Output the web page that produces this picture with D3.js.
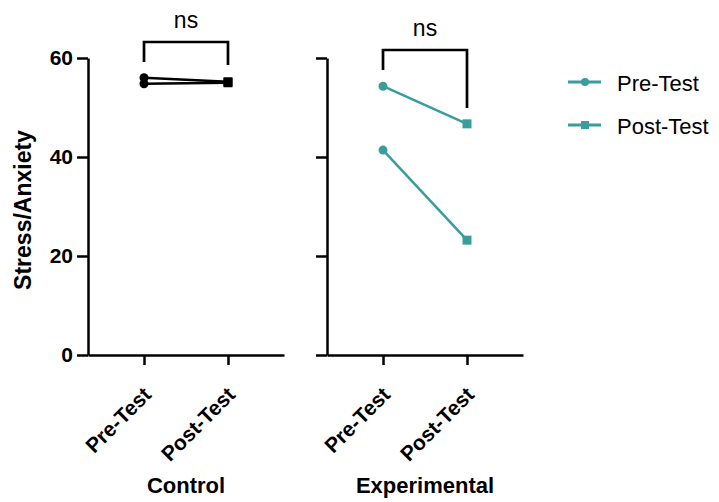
<!DOCTYPE html>
<html>
<head>
<meta charset="utf-8">
<script src="https://cdn.jsdelivr.net/npm/d3@7"></script>
<style>
  body { margin: 0; background: #fff; }
  svg { font-family: "Liberation Sans", Arial, sans-serif; }
</style>
</head>
<body>
<div id="chart"></div>
<script>
// data
var groups = ["Control", "Experimental"];
var timepoints = ["Pre-Test", "Post-Test"];
var yTicks = [0, 20, 40, 60];
// each subject: [pre, post]
var controlSubjects = [[56.0, 55.2], [54.8, 55.0]];
var experimentalSubjects = [[54.3, 46.7], [41.4, 23.2]];
var sigLabels = ["ns", "ns"];
var legendLabels = ["Pre-Test", "Post-Test"];

var teal = "#3a9c9c";
var groupColors = ["#000", teal];

var width = 719, height = 502;

var svg = d3.select("#chart").append("svg")
    .attr("width", width)
    .attr("height", height);

var y = d3.scaleLinear()
    .domain([0, 60])
    .range([355, 58]);

var panels = [
    { name: groups[0], left: 88, data: controlSubjects, color: groupColors[0], yLabels: true, bracketTop: 42, legs: [62, 65], nsY: 21 },
    { name: groups[1], left: 327, data: experimentalSubjects, color: groupColors[1], yLabels: false, bracketTop: 50, legs: [70, 108], nsY: 29 }
];

var panelWidth = 196;

panels.forEach(function(p, pi) {
    var x = d3.scalePoint()
        .domain(timepoints)
        .range([p.left, p.left + panelWidth])
        .padding(0.667);

    // y axis
    var yAxis = d3.axisLeft(y)
        .tickValues(yTicks)
        .tickSize(11)
        .tickSizeOuter(0)
        .tickPadding(4)
        .tickFormat(p.yLabels ? d3.format("d") : function() { return ""; });

    var gy = svg.append("g")
        .attr("transform", "translate(" + p.left + ",0)")
        .call(yAxis);
    gy.select(".domain").attr("stroke-width", 2.5);
    gy.selectAll(".tick line").attr("stroke-width", 2.5);
    gy.selectAll(".tick text")
        .style("font-size", "21px")
        .style("font-weight", "bold")
        .attr("fill", "#000");

    // x axis
    var xAxis = d3.axisBottom(x)
        .tickSize(10)
        .tickSizeOuter(0);

    var gx = svg.append("g")
        .attr("transform", "translate(0," + y(0) + ")")
        .call(xAxis);
    gx.select(".domain").attr("stroke-width", 2.5);
    gx.selectAll(".tick line").attr("stroke-width", 2.5);
    gx.selectAll(".tick text")
        .style("font-size", "21px")
        .style("font-weight", "bold")
        .attr("fill", "#000")
        .attr("text-anchor", "end")
        .attr("x", 0)
        .attr("y", 0)
        .attr("dy", 0)
        .attr("transform", "translate(8,41) rotate(-45)");

    // group label
    svg.append("text")
        .attr("x", p.left + panelWidth / 2)
        .attr("y", 493)
        .attr("text-anchor", "middle")
        .style("font-size", "22px")
        .style("font-weight", "bold")
        .text(p.name);

    // subject lines
    var line = d3.line()
        .x(function(d, i) { return x(timepoints[i]); })
        .y(function(d) { return y(d); });

    svg.append("g").selectAll("path")
        .data(p.data)
        .enter().append("path")
        .attr("d", line)
        .attr("fill", "none")
        .attr("stroke", p.color)
        .attr("stroke-width", 2.5);

    var marks = svg.append("g");
    p.data.forEach(function(s) {
        marks.append("circle")
            .attr("cx", x(timepoints[0]))
            .attr("cy", y(s[0]))
            .attr("r", 4.5)
            .attr("fill", p.color);
        marks.append("rect")
            .attr("x", x(timepoints[1]) - 4.5)
            .attr("y", y(s[1]) - 4.5)
            .attr("width", 9)
            .attr("height", 9)
            .attr("fill", p.color);
    });

    // significance bracket
    var x0 = x(timepoints[0]), x1 = x(timepoints[1]);
    svg.append("path")
        .attr("d", "M" + x0 + "," + p.legs[0] + "V" + p.bracketTop + "H" + x1 + "V" + p.legs[1])
        .attr("fill", "none")
        .attr("stroke", "#000")
        .attr("stroke-width", 2.7);
    svg.append("text")
        .attr("x", (x0 + x1) / 2)
        .attr("y", p.nsY)
        .attr("dy", "0.3em")
        .attr("text-anchor", "middle")
        .style("font-size", "23px")
        .text(sigLabels[pi]);
});

// y axis title
svg.append("text")
    .attr("transform", "translate(31,210) rotate(-90)")
    .attr("text-anchor", "middle")
    .style("font-size", "23px")
    .style("font-weight", "bold")
    .text("Stress/Anxiety");

// legend
var legend = svg.append("g");
legendLabels.forEach(function(lbl, i) {
    var ly = 82 + i * 43;
    legend.append("line")
        .attr("x1", 568).attr("x2", 601)
        .attr("y1", ly).attr("y2", ly)
        .attr("stroke", teal)
        .attr("stroke-width", 3);
    if (i === 0) {
        legend.append("circle")
            .attr("cx", 585).attr("cy", ly).attr("r", 4)
            .attr("fill", teal);
    } else {
        legend.append("rect")
            .attr("x", 581).attr("y", ly - 4)
            .attr("width", 8).attr("height", 8)
            .attr("fill", teal);
    }
    legend.append("text")
        .attr("x", 617)
        .attr("y", ly + 1)
        .attr("dy", "0.35em")
        .style("font-size", "22px")
        .text(lbl);
});
</script>
</body>
</html>
